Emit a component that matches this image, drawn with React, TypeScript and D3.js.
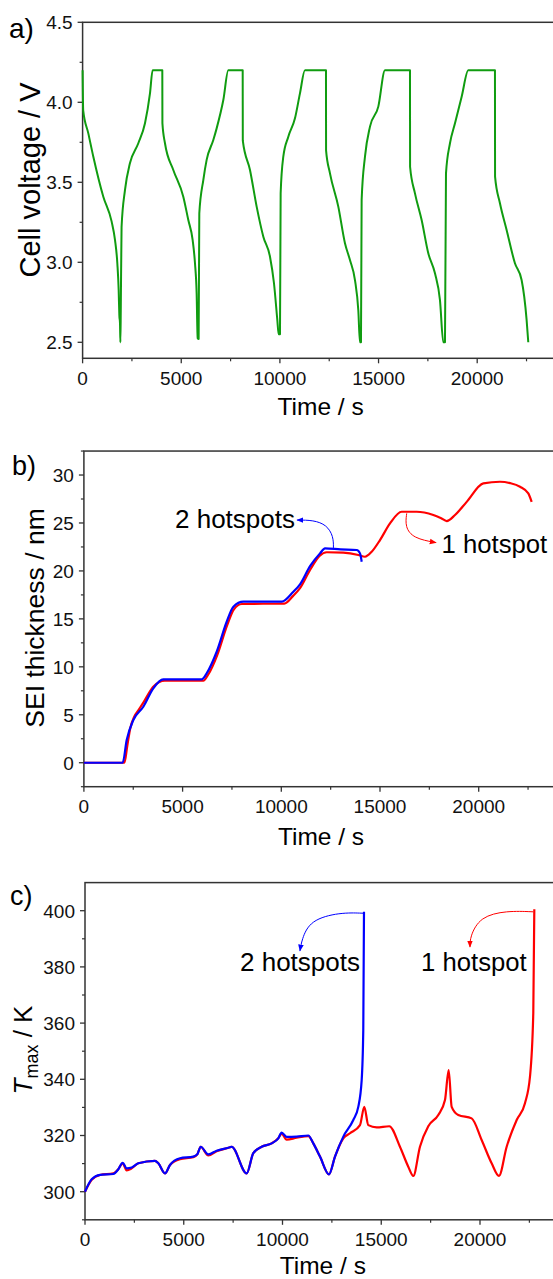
import React from "react";
import * as d3 from "d3";

type Pt = [number, number];

// a) cell voltage (time s, V)
const voltage: Pt[] = [
  [0, 4.2], [30, 3.95], [290, 3.806], [544, 3.66], [1050, 3.41], [1473, 3.254], [1642, 3.14],
  [1760, 2.994], [1828, 2.827], [1862, 2.67], [1895, 2.62], [1915, 2.5], [1935, 2.7], [1975, 3.22],
  [2149, 3.452], [2402, 3.62], [2824, 3.744], [3162, 3.869], [3415, 4.056], [3550, 4.2], [4040, 4.2],
  [4045, 3.87], [4175, 3.744], [4597, 3.577], [5104, 3.41], [5358, 3.264], [5577, 3.14], [5696, 2.994],
  [5780, 2.806], [5831, 2.525], [5881, 2.52], [5915, 3.306], [6118, 3.514], [6287, 3.64], [6625, 3.764],
  [6794, 3.837], [7132, 4.014], [7385, 4.2], [8114, 4.2], [8120, 3.76], [8484, 3.577], [8822, 3.348],
  [9160, 3.16], [9498, 3.035], [9700, 2.869], [9869, 2.64], [9937, 2.55], [10004, 2.55], [10038, 3.431],
  [10172, 3.66], [10426, 3.785], [10764, 3.9], [11017, 4.056], [11270, 4.2], [12335, 4.2], [12340, 3.7],
  [12538, 3.556], [12960, 3.348], [13298, 3.119], [13551, 3.014], [13805, 2.889], [13974, 2.7],
  [14058, 2.5], [14109, 2.5], [14143, 3.39], [14312, 3.66], [14565, 3.848], [14988, 3.973], [15326, 4.2],
  [16593, 4.2], [16598, 3.597], [16846, 3.431], [17184, 3.264], [17522, 3.056], [17860, 2.931],
  [18113, 2.764], [18282, 2.5], [18367, 2.5], [18418, 3.556], [18620, 3.744], [18874, 3.869],
  [19212, 4.035], [19550, 4.2], [20900, 4.2], [20905, 3.535], [21153, 3.369], [21491, 3.202],
  [21913, 2.994], [22251, 2.889], [22504, 2.64], [22589, 2.5],
];

// b) SEI thickness (time s, nm)
const seiOne: Pt[] = [
  [0, 0], [2050, 0], [2200, 1.8], [2350, 3.6], [2550, 4.8], [2800, 5.6], [3050, 6.4], [3500, 7.9],
  [3800, 8.4], [4100, 8.55], [6050, 8.55], [6300, 9.2], [6750, 11.2], [7250, 14.3], [7600, 16.0],
  [8000, 16.55], [10150, 16.6], [10600, 17.4], [10948, 18.2], [11455, 20.1], [11950, 21.6],
  [12300, 21.95], [13141, 21.9], [13902, 21.66], [14240, 21.48], [14578, 22.0], [15000, 23.22],
  [15507, 24.96], [16098, 26.17], [16858, 26.17], [17701, 25.83], [18100, 25.5], [18380, 25.2],
  [18800, 25.83], [19392, 27.2], [20234, 29.13], [21079, 29.3], [21600, 29.15], [22093, 28.78],
  [22514, 28.09], [22683, 27.2],
];
const seiTwo: Pt[] = [
  [0, 0], [1965, 0], [2168, 2.37], [2504, 4.45], [3010, 5.84], [3516, 7.76], [4022, 8.69],
  [5967, 8.69], [6220, 9.32], [6727, 11.57], [7234, 14.7], [7572, 16.27], [8078, 16.79],
  [10020, 16.79], [10610, 17.83], [10948, 18.6], [11455, 20.5], [11961, 21.83], [12214, 22.35],
  [13000, 22.25], [13820, 22.18], [13987, 21.83], [14073, 20.96],
];

// c) maximum temperature (time s, K)
const tmaxOne: Pt[] = [
  [0, 300], [338, 304.2], [760, 305.95], [1434, 306.5], [1687, 308], [1907, 310.1], [2110, 307.6],
  [2363, 308.3], [2700, 310.1], [3544, 311], [3713, 310.1], [4050, 306.5], [4304, 309.5],
  [4810, 311.6], [5484, 312.3], [5686, 313.3], [5856, 316], [6244, 312.9], [6666, 314.4],
  [7341, 315.8], [7425, 316], [8185, 306.5], [8522, 313.7], [8944, 316], [9450, 317.2], [9787, 319],
  [9956, 320.6], [10210, 318.5], [10716, 319.2], [11307, 319.8], [11560, 317.2], [11898, 312.5],
  [12354, 306.2], [12658, 312.5], [13080, 319], [13417, 320.8], [13923, 323.7], [14141, 330.2],
  [14344, 323.7], [14768, 322.9], [15406, 323.3], [15947, 316], [16369, 308.9], [16622, 305.6],
  [16960, 316], [17381, 323.3], [17888, 327.3], [18227, 332.6], [18414, 343.3], [18566, 330.2],
  [18900, 327.3], [19578, 326.1], [20084, 318.4], [20590, 310.1], [20960, 305.6], [21350, 316],
  [21857, 325.5], [22277, 331.5], [22530, 340.9], [22698, 363.5], [22750, 400.5],
];
const tmaxTwo: Pt[] = [
  [0, 300], [338, 304.4], [760, 306], [1434, 306.3], [1687, 308], [1907, 310.3], [2110, 308.3],
  [2363, 308.6], [2700, 310.1], [3544, 311], [3713, 310.1], [4050, 306.5], [4304, 309.5],
  [4810, 311.9], [5484, 312.5], [5686, 313.3], [5856, 316], [6244, 313.3], [6666, 314.6],
  [7341, 315.8], [7425, 316], [8185, 306.5], [8522, 313.7], [8944, 316], [9450, 317.2], [9787, 319],
  [9956, 321], [10210, 319.5], [10716, 319.6], [11307, 320], [11560, 317.2], [11898, 312.5],
  [12354, 306.2], [12658, 312.5], [13080, 319.6], [13584, 325.5], [13837, 330.2], [14009, 339.7],
  [14090, 357.5], [14126, 399.6],
];

const timeTicks = [0, 5000, 10000, 15000, 20000];
const timeMinor = [2500, 7500, 12500, 17500, 22500];
const voltTicks = [2.5, 3.0, 3.5, 4.0, 4.5];
const voltMinor = [2.75, 3.25, 3.75, 4.25];
const seiTicks = [0, 5, 10, 15, 20, 25, 30];
const seiMinor = [-2.5, 2.5, 7.5, 12.5, 17.5, 22.5, 27.5, 32.5];
const tmaxTicks = [300, 320, 340, 360, 380, 400];
const tmaxMinor = [290, 310, 330, 350, 370, 390];

// annotation arrows, in data coordinates
const seiArrowTwo: Pt[] = [[12640, 22.4], [12640, 23.6], [12300, 24.8], [11620, 25.3], [10800, 25.3]];
const seiArrowOne: Pt[] = [[16353, 26.0], [16267, 24.6], [16687, 23.4], [17840, 22.95]];
const tmaxArrowTwo: Pt[] = [[14090, 399.1], [12911, 399.4], [11392, 396.7], [10972, 389.6], [10885, 385.7]];
const tmaxArrowOne: Pt[] = [[22698, 399.6], [21351, 400], [19999, 397.9], [19493, 390.7], [19493, 387.1]];

const FONT = "'Liberation Sans', Arial, sans-serif";
const AXIS = "#333";

type Lin = d3.ScaleLinear<number, number>;

function Frame(props: {
  x: Lin; y: Lin; xTicks: number[]; xMinor: number[]; yTicks: number[]; yMinor: number[];
  yFmt: (v: number) => string;
}) {
  const { x, y } = props;
  const [x0, x1] = x.range();
  const [yb, yt] = y.range();
  return (
    <g fontFamily={FONT} fill="#111">
      <rect x={x0} y={yt} width={x1 - x0} height={yb - yt} fill="none" stroke={AXIS} strokeWidth={1.5} />
      {props.xTicks.map(t => (
        <g key={"xt" + t}>
          <line x1={x(t)} x2={x(t)} y1={yb} y2={yb + 5} stroke={AXIS} strokeWidth={1.3} />
          <text x={x(t)} y={yb + 26.5} fontSize={19} textAnchor="middle">{t}</text>
        </g>
      ))}
      {props.xMinor.map(t => (
        <line key={"xm" + t} x1={x(t)} x2={x(t)} y1={yb} y2={yb + 3} stroke={AXIS} strokeWidth={1.2} />
      ))}
      {props.yTicks.map(v => (
        <g key={"yt" + v}>
          <line x1={x0 - 5} x2={x0} y1={y(v)} y2={y(v)} stroke={AXIS} strokeWidth={1.3} />
          <text x={x0 - 10} y={y(v)} dy="0.36em" fontSize={19} textAnchor="end">{props.yFmt(v)}</text>
        </g>
      ))}
      {props.yMinor.map(v => (
        <line key={"ym" + v} x1={x0 - 3} x2={x0} y1={y(v)} y2={y(v)} stroke={AXIS} strokeWidth={1.2} />
      ))}
    </g>
  );
}

function pathOf(x: Lin, y: Lin, pts: Pt[], curve: d3.CurveFactory = d3.curveLinear) {
  return d3.line<Pt>().x(d => x(d[0])).y(d => y(d[1])).curve(curve)(pts) || "";
}

export default function App() {
  const xa = d3.scaleLinear().domain([0, 25000]).range([82.6, 575.85]);
  const ya = d3.scaleLinear().domain([2.4, 4.5]).range([358.3, 22.3]);
  const xb = d3.scaleLinear().domain([0, 25000]).range([83.9, 577.4]);
  const yb = d3.scaleLinear().domain([-2.5, 32.5]).range([786.7, 451.05]);
  const xc = d3.scaleLinear().domain([0, 25000]).range([85, 578.75]);
  const yc = d3.scaleLinear().domain([290, 410]).range([1219.8, 882.6]);

  const f1 = d3.format(".1f");
  const f0 = d3.format("d");

  return (
    <svg width={553} height={1279} style={{ position: "absolute", left: 0, top: 0, background: "#fff" }}>
      <defs>
        <marker id="hb" viewBox="0 0 10 10" refX="9" refY="5" markerWidth="7" markerHeight="7"
          markerUnits="userSpaceOnUse" orient="auto">
          <path d="M0,1 L10,5 L0,9 z" fill="#0000ff" />
        </marker>
        <marker id="hr" viewBox="0 0 10 10" refX="9" refY="5" markerWidth="7" markerHeight="7"
          markerUnits="userSpaceOnUse" orient="auto">
          <path d="M0,1 L10,5 L0,9 z" fill="#ff0000" />
        </marker>
      </defs>
      <rect width={553} height={1279} fill="#fff" />

      {/* a) */}
      <Frame x={xa} y={ya} xTicks={timeTicks} xMinor={timeMinor} yTicks={voltTicks} yMinor={voltMinor} yFmt={f1} />
      <path d={pathOf(xa, ya, voltage, d3.curveMonotoneX)} fill="none" stroke="#109c10" strokeWidth={2} strokeLinejoin="round" />
      <text x={9} y={38} fontSize={28} fontFamily={FONT}>a)</text>
      <text transform="translate(39.5,180) rotate(-90)" fontSize={29} textAnchor="middle" fontFamily={FONT}>Cell voltage / V</text>
      <text x={320.6} y={415} fontSize={24.5} textAnchor="middle" fontFamily={FONT}>Time / s</text>

      {/* b) */}
      <Frame x={xb} y={yb} xTicks={timeTicks} xMinor={timeMinor} yTicks={seiTicks} yMinor={seiMinor} yFmt={f0} />
      <path d={pathOf(xb, yb, seiOne, d3.curveMonotoneX)} fill="none" stroke="#ff0000" strokeWidth={2.2} />
      <path d={pathOf(xb, yb, seiTwo, d3.curveMonotoneX)} fill="none" stroke="#0000ff" strokeWidth={2.2} />
      <path d={pathOf(xb, yb, seiArrowTwo, d3.curveBasis)} fill="none" stroke="#0000ff" strokeWidth={1} markerEnd="url(#hb)" />
      <path d={pathOf(xb, yb, seiArrowOne, d3.curveBasis)} fill="none" stroke="#ff0000" strokeWidth={1} markerEnd="url(#hr)" />
      <text x={295} y={528} fontSize={26} textAnchor="end" fontFamily={FONT}>2 hotspots</text>
      <text x={441.5} y={552.5} fontSize={25.7} fontFamily={FONT}>1 hotspot</text>
      <text x={12} y={475} fontSize={27} fontFamily={FONT}>b)</text>
      <text transform="translate(43.5,618) rotate(-90)" fontSize={26.5} textAnchor="middle" fontFamily={FONT}>SEI thickness / nm</text>
      <text x={321} y={845} fontSize={24.5} textAnchor="middle" fontFamily={FONT}>Time / s</text>

      {/* c) */}
      <Frame x={xc} y={yc} xTicks={timeTicks} xMinor={timeMinor} yTicks={tmaxTicks} yMinor={tmaxMinor} yFmt={f0} />
      <path d={pathOf(xc, yc, tmaxOne, d3.curveMonotoneX)} fill="none" stroke="#ff0000" strokeWidth={2.2} strokeLinejoin="round" />
      <path d={pathOf(xc, yc, tmaxTwo, d3.curveMonotoneX)} fill="none" stroke="#0000ff" strokeWidth={2.2} strokeLinejoin="round" />
      <path d={pathOf(xc, yc, tmaxArrowTwo, d3.curveBasis)} fill="none" stroke="#0000ff" strokeWidth={1} markerEnd="url(#hb)" />
      <path d={pathOf(xc, yc, tmaxArrowOne, d3.curveBasis)} fill="none" stroke="#ff0000" strokeWidth={1} markerEnd="url(#hr)" />
      <text x={360} y={970.5} fontSize={26} textAnchor="end" fontFamily={FONT}>2 hotspots</text>
      <text x={421} y={970.5} fontSize={25.7} fontFamily={FONT}>1 hotspot</text>
      <text x={10} y={905} fontSize={27} fontFamily={FONT}>c)</text>
      <text transform="translate(31.5,1050) rotate(-90)" fontSize={26} textAnchor="middle" fontFamily={FONT}>
        <tspan fontStyle="italic">T</tspan>
        <tspan fontSize={18} dy={6}>max</tspan>
        <tspan dy={-6}> / K</tspan>
      </text>
      <text x={322.8} y={1274} fontSize={24.5} textAnchor="middle" fontFamily={FONT}>Time / s</text>
    </svg>
  );
}
